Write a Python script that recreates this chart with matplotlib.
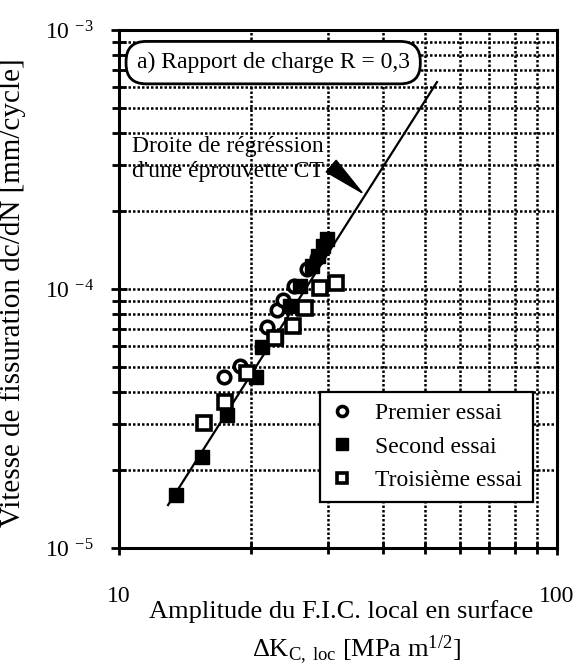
import numpy as np
import matplotlib
matplotlib.use("Agg")
import matplotlib.pyplot as plt
from matplotlib.ticker import LogLocator, FixedLocator, NullFormatter, FixedFormatter

plt.rcParams["font.family"] = ["Liberation Serif", "DejaVu Serif"]
plt.rcParams["mathtext.fontset"] = "custom"
plt.rcParams["mathtext.rm"] = "Liberation Serif"
plt.rcParams["mathtext.it"] = "Liberation Serif:italic"
plt.rcParams["mathtext.bf"] = "Liberation Serif:bold"

# Test 1 : open circles
dk_premier = [17.37, 18.89, 21.77, 22.95, 23.68, 25.08, 26.87, 28.32]
v_premier = [4.57e-5, 5.04e-5, 7.13e-5, 8.30e-5, 9.07e-5, 1.027e-4, 1.195e-4, 1.318e-4]

# Test 2 : filled squares
dk_second = [13.49, 15.47, 17.64, 20.55, 21.21, 22.83, 24.57, 25.90, 27.58, 28.47, 29.23, 29.85]
v_second = [1.60e-5, 2.25e-5, 3.26e-5, 4.57e-5, 5.97e-5, 6.53e-5, 8.60e-5, 1.027e-4,
            1.228e-4, 1.341e-4, 1.466e-4, 1.56e-4]

# Test 3 : open squares
dk_troisieme = [15.63, 17.46, 19.60, 22.71, 24.96, 26.59, 28.76, 31.29]
v_troisieme = [3.04e-5, 3.66e-5, 4.74e-5, 6.47e-5, 7.20e-5, 8.45e-5, 1.009e-4, 1.055e-4]

# Paris-law regression of a CT specimen: dc/dN = C * dK^m
paris_C = 10 ** -7.792
paris_m = 2.66
dk_line = [12.94, 53.2]
dk_arrow_tip = 36.45
dk_arrow_tail, v_arrow_tail = 31.62, 2.83e-4

x_ticks = [10, 100]
x_ticklabels = ["10", "100"]
y_ticks = [1e-5, 1e-4, 1e-3]
y_ticklabels = [r"10 $^{-5}$", r"10 $^{-4}$", r"10 $^{-3}$"]

fig = plt.figure(figsize=(5.8, 6.67), dpi=100)
ax = fig.add_axes([119 / 580, 1 - 548 / 667, 438 / 580, 518 / 667])
ax.set_xscale("log")
ax.set_yscale("log")
ax.set_xlim(10, 100)
ax.set_ylim(1e-5, 1e-3)

# dotted grid on every decade subdivision
grid_kw = dict(color="black", linestyle=(0, (1.0, 0.8)), linewidth=1.8)
ax.grid(True, which="both", **grid_kw)
ax.set_axisbelow(True)

ax.xaxis.set_major_locator(FixedLocator(x_ticks))
ax.xaxis.set_major_formatter(FixedFormatter(x_ticklabels))
ax.xaxis.set_minor_locator(LogLocator(base=10, subs=np.arange(2, 10)))
ax.xaxis.set_minor_formatter(NullFormatter())
ax.yaxis.set_major_locator(FixedLocator(y_ticks))
ax.yaxis.set_major_formatter(FixedFormatter(y_ticklabels))
ax.yaxis.set_minor_locator(LogLocator(base=10, subs=np.arange(2, 10)))
ax.yaxis.set_minor_formatter(NullFormatter())

ax.tick_params(axis="both", which="both", direction="inout", width=2.0, color="black",
               top=False, right=False)
ax.tick_params(axis="x", which="major", length=10, labelsize=17, pad=22)
ax.tick_params(axis="x", which="minor", length=9)
ax.tick_params(axis="y", which="major", length=12, labelsize=17, pad=12)
ax.tick_params(axis="y", which="minor", length=10)
for s in ax.spines.values():
    s.set_linewidth(2.2)

# regression line
dk_line = np.array(dk_line)
ax.plot(dk_line, paris_C * dk_line ** paris_m, color="black", lw=1.6, zorder=3)

ax.plot(dk_premier, v_premier, linestyle="none", marker="o", ms=9, mfc="white",
        mec="black", mew=2.6, label="Premier essai", zorder=4)
ax.plot(dk_second, v_second, linestyle="none", marker="s", ms=10, mfc="black",
        mec="black", mew=1.0, label="Second essai", zorder=4)
ax.plot(dk_troisieme, v_troisieme, linestyle="none", marker="s", ms=9.5, mfc="white",
        mec="black", mew=2.6, label="Troisième essai", zorder=4)

leg = ax.legend(loc="upper right", bbox_to_anchor=(0.945, 0.301), fontsize=17,
                frameon=True, fancybox=False, framealpha=1, edgecolor="black",
                borderaxespad=0, handlelength=1.0, handletextpad=0.9,
                labelspacing=0.5, borderpad=0.45, markerscale=0.8, numpoints=1)
leg.get_frame().set_linewidth(1.6)
leg.set_zorder(6)

# load-ratio title in a rounded box
ax.text(0.352, 0.937, "a) Rapport de charge R = 0,3", transform=ax.transAxes,
        ha="center", va="center", fontsize=17, zorder=7,
        bbox=dict(boxstyle="round,pad=0.45,rounding_size=0.85", fc="white",
                  ec="black", lw=2.0))

# regression label with arrow pointing at the line
ax.text(0.03, 0.751, "Droite de régréssion\nd'une éprouvette CT", transform=ax.transAxes,
        ha="left", va="center", fontsize=17, linespacing=1.22, zorder=7)
ax.annotate("", xy=(dk_arrow_tip, paris_C * dk_arrow_tip ** paris_m),
            xytext=(dk_arrow_tail, v_arrow_tail),
            arrowprops=dict(arrowstyle="-|>,head_length=2.4,head_width=0.45",
                            color="black", lw=1.2, shrinkA=0, shrinkB=0,
                            mutation_scale=12), zorder=7)

ax.set_ylabel("Vitesse de fissuration dc/dN [mm/cycle]", fontsize=21)
ax.yaxis.set_label_coords(-0.212, 0.492)
ax.text(0.508, -0.1235, "Amplitude du F.I.C. local en surface", transform=ax.transAxes,
        ha="center", va="center", fontsize=19)
ax.text(0.542, -0.197, r"ΔK$_{\mathrm{C,\ loc}}$ [MPa m$^{1/2}$]", transform=ax.transAxes,
        ha="center", va="center", fontsize=19)

fig.savefig("out.png", dpi=100)
